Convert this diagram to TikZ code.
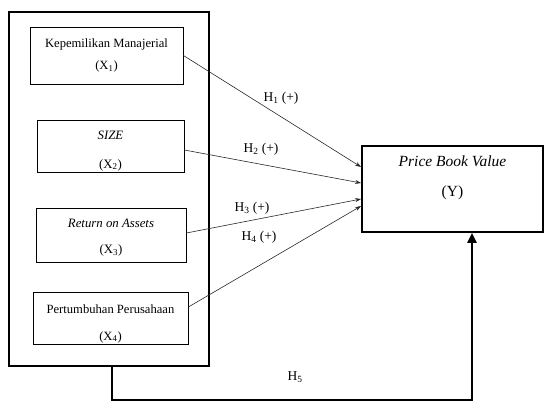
\documentclass[tikz,border=0pt]{standalone}
\usepackage{fontspec}
\setmainfont{Liberation Serif}
\usetikzlibrary{arrows.meta}

\definecolor{myline}{RGB}{40,40,40}

\begin{document}
\begin{tikzpicture}[x=1pt,y=-1pt,
  varbox/.style={draw,line width=0.8pt,inner sep=0pt,align=center},
  hyp/.style={myline,line width=0.6pt,-{Stealth[length=6pt,width=4pt]}},
  hlabel/.style={font=\fontsize{13.5}{15}\selectfont}]
 \useasboundingbox (0,0) rectangle (552,405);
  % independent variables
  \node[draw,line width=2.2pt,minimum width=200pt,minimum height=354pt] (outer) at (109,189) {};
  \node[varbox,minimum width=153pt,minimum height=57pt,font=\fontsize{12.6}{22}\selectfont]
    (x1) at (106.5,55.5) {Kepemilikan Manajerial\\(X\textsubscript{1})};
  \node[varbox,minimum width=147pt,minimum height=52pt,font=\fontsize{12.8}{29}\selectfont]
    (x2) at (110.5,146) {\rule{0pt}{18pt}\textit{SIZE}\\(X\textsubscript{2})};
  \node[varbox,minimum width=150pt,minimum height=54pt,font=\fontsize{12.8}{26}\selectfont]
    (x3) at (111,235) {\rule{0pt}{14pt}\textit{Return on Assets}\\(X\textsubscript{3})};
  \node[varbox,minimum width=155pt,minimum height=52pt,font=\fontsize{12.6}{27}\selectfont]
    (x4) at (110.5,318) {\rule{0pt}{20pt}Pertumbuhan Perusahaan\\(X\textsubscript{4})};
  % dependent variable
  \node[draw,line width=1.8pt,inner sep=0pt,align=center,minimum width=181pt,minimum height=86pt,
        font=\fontsize{15.5}{30}\selectfont]
    (y) at (452.5,189) {\textit{Price Book Value}\\(Y)\rule[-25pt]{0pt}{0pt}};

  \draw[hyp] (x1.east) -- ([yshift=22pt]y.west);
  \draw[hyp] ([yshift=-4pt]x2.east) -- ([yshift=6pt]y.west);
  \draw[hyp] ([yshift=2pt]x3.east) -- ([yshift=-10pt]y.west);
  \draw[hyp] ([yshift=11pt]x4.east) -- ([yshift=-17pt]y.west);

  \node[hlabel] (h1) at (281,98)  {H\textsubscript{1} (+)};
  \node[hlabel] (h2) at (261,149) {H\textsubscript{2} (+)};
  \node[hlabel] (h3) at (252,208) {H\textsubscript{3} (+)};
  \node[hlabel] (h4) at (259,237) {H\textsubscript{4} (+)};

  % simultaneous path
  \coordinate (c1) at (112,400);
  \coordinate (c2) at (472,400);
  \draw[line width=2.6pt,-{Triangle[length=10pt,width=9pt]}]
    (outer.south -| c1) -- (c1) -- (c2) -- (y.south -| c2);
  \node[hlabel] (h5) at (295,377) {H\textsubscript{5}};

\end{tikzpicture}
\end{document}
